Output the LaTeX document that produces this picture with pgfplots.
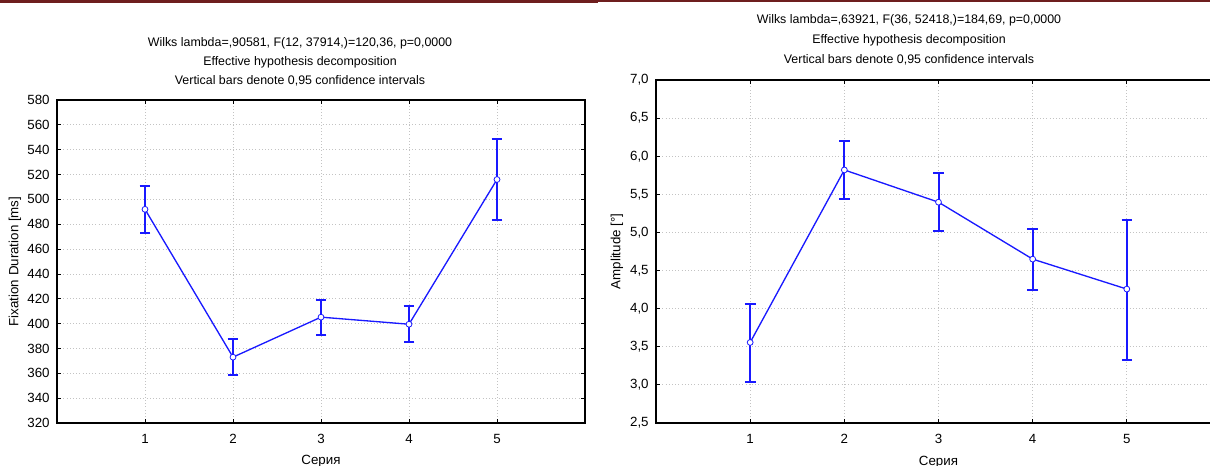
\documentclass[border=0pt]{standalone}
\usepackage{fontspec}
\setmainfont{Liberation Sans}
\usepackage{pgfplots}
\usepackage{pgfplotstable}
\pgfplotsset{compat=1.18}
\definecolor{band}{RGB}{110,30,30}
\definecolor{gridc}{RGB}{195,195,195}
\definecolor{ser}{RGB}{25,25,255}

\pgfplotstableread{
x y ep em
1 492 19 19
2 373 14.4 14.4
3 405.2 14 14.6
4 399.5 14.8 14.6
5 516 33 33
}\fixtab

\pgfplotstableread{
x y ep em
1 3.557 0.505 0.515
2 5.82 0.38 0.385
3 5.397 0.388 0.38
4 4.65 0.393 0.406
5 4.257 0.904 0.927
}\amptab

\pgfplotsset{
  mystyle/.style={
    scale only axis, xmin=0, xmax=6, xtick={1,2,3,4,5},
    grid=major, major grid style={gridc, dotted, line width=0.6pt},
    axis line style={black, line width=1pt},
    tick align=inside, tick pos=both, major tick length=3pt,
    tick style={black, line width=0.6pt},
    /pgf/number format/assume math mode=true,
    tick label style={font=\fontsize{10}{12}\selectfont},
    label style={font=\fontsize{10}{12}\selectfont},
    xticklabel style={yshift=-5pt},
    yticklabel style={xshift=-2pt},
  },
  myplot/.style={
    ser, line width=1pt, mark=*, mark size=2.2pt,
    mark options={fill=white, draw=ser, line width=0.6pt},
    error bars/.cd, y dir=both, y explicit,
    error bar style={line width=1.5pt, ser},
    error mark options={rotate=90, mark size=4pt, line width=1.5pt, ser},
  },
}

\begin{document}
\begin{tikzpicture}
\useasboundingbox (0,0) rectangle (907.5pt,349.5pt);
\clip (0,0) rectangle (907.5pt,349.5pt);
\fill[band] (0pt,349.5pt) rectangle (448.5pt,347.25pt);
\fill[band] (448.5pt,349.5pt) rectangle (907.5pt,348pt);

% left chart
\begin{axis}[mystyle,
  at={(42.75pt,32.25pt)}, anchor=south west,
  width=396pt, height=242.25pt,
  ymin=320, ymax=580, ytick={320,340,...,580},
  ylabel={Fixation Duration [ms]},
  xlabel={Серия},
  ylabel style={at={(axis description cs:-0.0795,0.5)}, anchor=center},
  xlabel style={at={(axis description cs:0.5,-0.119)}, anchor=center},
]
\addplot[myplot] table[x=x, y=y, y error plus=ep, y error minus=em] {\fixtab};
\end{axis}

% right chart
\begin{axis}[mystyle,
  at={(492pt,32.25pt)}, anchor=south west,
  width=423.75pt, height=257.25pt,
  ymin=2.5, ymax=7, ytick={2.5,3,...,7},
  yticklabel style={/pgf/number format/.cd, use comma, fixed, fixed zerofill, precision=1},
  ylabel={Amplitude [°]},
  xlabel={Серия},
  ylabel style={at={(axis description cs:-0.069,0.5)}, anchor=center},
  xlabel style={at={(axis description cs:0.5,-0.113)}, anchor=center},
]
\addplot[myplot] table[x=x, y=y, y error plus=ep, y error minus=em] {\amptab};
\end{axis}

\begin{scope}[every node/.style={font=\fontsize{9.3}{11}\selectfont, anchor=center, inner sep=0pt}]
\node at (225pt,317.25pt) {Wilks lambda=,90581, F(12, 37914,)=120,36, p=0,0000};
\node at (225pt,303pt) {Effective hypothesis decomposition};
\node at (225pt,288.75pt) {Vertical bars denote 0,95 confidence intervals};
\node at (681.75pt,334.5pt) {Wilks lambda=,63921, F(36, 52418,)=184,69, p=0,0000};
\node at (681.75pt,319.5pt) {Effective hypothesis decomposition};
\node at (681.75pt,304.5pt) {Vertical bars denote 0,95 confidence intervals};
\end{scope}
\end{tikzpicture}
\end{document}
